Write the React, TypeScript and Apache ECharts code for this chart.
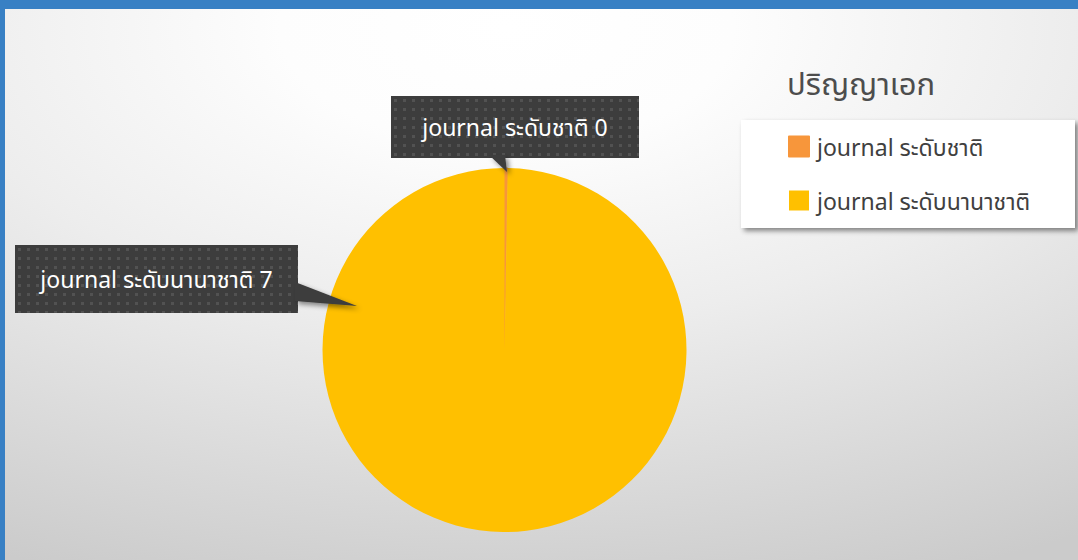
import React, { useEffect, useRef } from "react";
import * as echarts from "echarts";

const chartTitle = "ปริญญาเอก";
const categories = ["journal ระดับชาติ", "journal ระดับนานาชาติ"];
const values = [0, 7];
const colors = ["#F7963B", "#FFC000"];

const FONT = "'Noto Sans', 'Noto Sans Thai', 'DejaVu Sans', sans-serif";

// label boxes: center x, center y, width, height
const labelBoxes = [
  { cx: 515, cy: 127, w: 248, h: 62 },
  { cx: 156.5, cy: 279, w: 283, h: 68 },
];

function makeDots(w: number, h: number): string {
  const c = document.createElement("canvas");
  c.width = w;
  c.height = h;
  const ctx = c.getContext("2d");
  if (!ctx) return "";
  ctx.fillStyle = "#3d3d3d";
  ctx.fillRect(0, 0, w, h);
  ctx.fillStyle = "#525252";
  for (let y = 3; y < h; y += 9) {
    for (let x = 3; x < w; x += 9) {
      ctx.fillRect(x, y, 3, 3);
    }
  }
  return c.toDataURL();
}

export default function App() {
  const ref = useRef<HTMLDivElement>(null);
  useEffect(() => {
    if (!ref.current) return;
    const chart = echarts.init(ref.current, undefined, { renderer: "svg" });
    const bgs = labelBoxes.map((b) => makeDots(b.w, b.h));
    const data = categories.map((name, i) => ({
      name,
      value: values[i],
      itemStyle:
        values[i] === 0
          ? { color: colors[i], borderColor: colors[i], borderWidth: 1 }
          : { color: colors[i] },
      label: {
        width: labelBoxes[i].w,
        height: labelBoxes[i].h,
        lineHeight: labelBoxes[i].h,
        backgroundColor: { image: bgs[i] },
      },
    }));
    const shadow = {
      shadowBlur: 5,
      shadowColor: "rgba(0,0,0,0.45)",
      shadowOffsetX: 3,
      shadowOffsetY: 3,
    };
    chart.setOption({
      animation: false,
      backgroundColor: {
        type: "radial",
        x: 0.47,
        y: 0.05,
        r: 1.05,
        colorStops: [
          { offset: 0, color: "#ffffff" },
          { offset: 0.2, color: "#fdfdfd" },
          { offset: 0.5, color: "#ededed" },
          { offset: 1, color: "#cbcbcb" },
        ],
      },
      title: {
        text: chartTitle,
        left: 782,
        top: 62,
        textStyle: {
          fontFamily: FONT,
          fontSize: 31,
          fontWeight: "normal",
          color: "#4d4d4d",
        },
      },
      legend: {
        orient: "vertical",
        left: 788,
        top: 135,
        padding: 0,
        itemWidth: 20,
        itemHeight: 20,
        itemGap: 31,
        icon: "rect",
        data: categories,
        textStyle: {
          fontFamily: FONT,
          fontSize: 23,
          color: "#404040",
          padding: [0, 0, 0, 3],
        },
        z: 5,
      },
      graphic: [
        {
          type: "rect",
          z: 1,
          shape: { x: 741, y: 120, width: 334, height: 108 },
          style: { fill: "#ffffff", ...shadow },
        },
        {
          type: "polygon",
          z: 3,
          shape: { points: [[489, 155], [505, 155], [507, 172]] },
          style: { fill: "#3d3d3d", ...shadow },
        },
        {
          type: "polygon",
          z: 3,
          shape: { points: [[295, 282], [295, 301], [357, 306]] },
          style: { fill: "#3d3d3d", ...shadow },
        },
        {
          type: "rect",
          z: 100,
          shape: { x: 0, y: 0, width: 1078, height: 9 },
          style: { fill: "#3880C4" },
        },
        {
          type: "rect",
          z: 100,
          shape: { x: 0, y: 0, width: 5, height: 560 },
          style: { fill: "#3880C4" },
        },
      ],
      series: [
        {
          type: "pie",
          center: [504.5, 350],
          radius: 182,
          startAngle: 90,
          clockwise: true,
          minAngle: 1,
          avoidLabelOverlap: false,
          emphasis: { disabled: true },
          itemStyle: { borderWidth: 0 },
          z: 2,
          label: {
            show: true,
            formatter: "{b} {c}",
            fontFamily: FONT,
            fontSize: 23,
            color: "#ffffff",
            align: "center",
            padding: 0,
            ...shadow,
          },
          labelLine: { show: false },
          labelLayout: (params: any) => {
            const b = labelBoxes[params.dataIndex];
            return {
              x: b.cx,
              y: b.cy,
              align: "center",
              verticalAlign: "middle",
            };
          },
          data,
        },
      ],
    });
    return () => chart.dispose();
  }, []);
  return (
    <div
      ref={ref}
      style={{ position: "absolute", left: 0, top: 0, width: 1078, height: 560 }}
    />
  );
}
